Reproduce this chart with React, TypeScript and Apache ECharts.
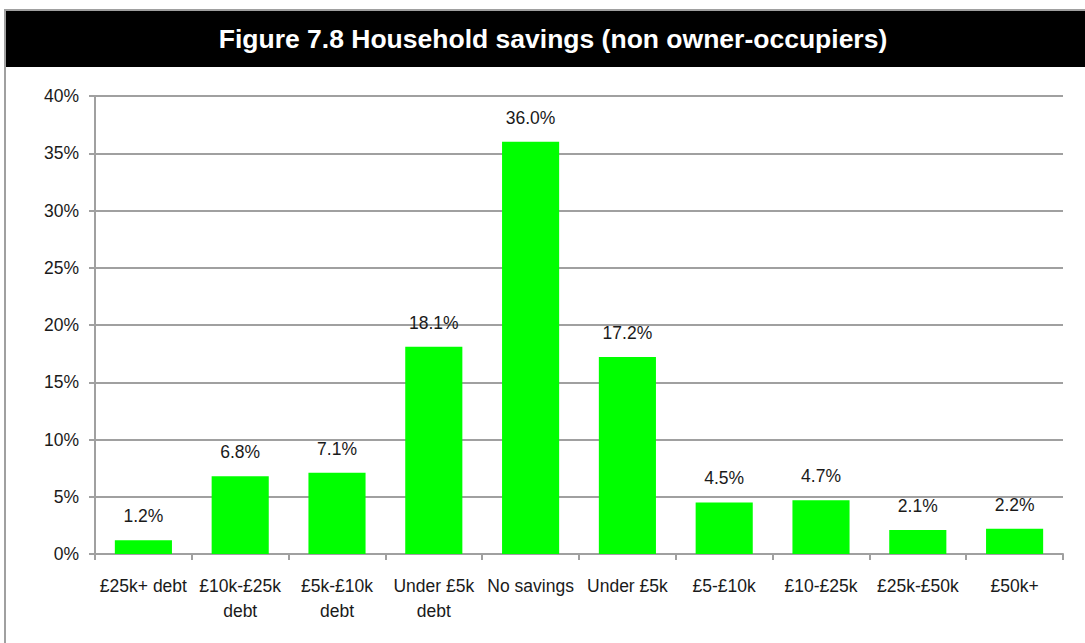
import React, { useEffect, useRef } from "react";
import * as echarts from "echarts";

const title = "Figure 7.8 Household savings (non owner-occupiers)";
const categories = [
  "£25k+ debt",
  "£10k-£25k\ndebt",
  "£5k-£10k\ndebt",
  "Under £5k\ndebt",
  "No savings",
  "Under £5k",
  "£5-£10k",
  "£10-£25k",
  "£25k-£50k",
  "£50k+",
];
const values = [1.2, 6.8, 7.1, 18.1, 36.0, 17.2, 4.5, 4.7, 2.1, 2.2];

const GRAY = "#a0a0a0";
const FONT = "'Liberation Sans', Arial, sans-serif";

export default function App() {
  const ref = useRef<HTMLDivElement>(null);
  useEffect(() => {
    if (!ref.current) return;
    const chart = echarts.init(ref.current, undefined, { renderer: "svg" });
    chart.setOption({
      animation: false,
      backgroundColor: "#ffffff",
      graphic: [
        {
          type: "rect",
          shape: { x: 5, y: 10, width: 1100, height: 650 },
          style: { fill: "#ffffff", stroke: GRAY, lineWidth: 2 },
          z: -10,
          silent: true,
        },
        {
          type: "rect",
          shape: { x: 6, y: 11, width: 1100, height: 56 },
          style: { fill: "#000000" },
          z: -9,
          silent: true,
        },
        {
          type: "text",
          x: 553,
          y: 39,
          style: {
            text: title,
            fill: "#ffffff",
            font: `bold 26.5px ${FONT}`,
            align: "center",
            verticalAlign: "middle",
          },
          z: 10,
        },
      ],
      grid: { left: 95, right: 22, top: 96, bottom: 89, containLabel: false },
      xAxis: {
        type: "category",
        data: categories,
        axisLine: { show: true, lineStyle: { color: GRAY, width: 2 } },
        axisTick: { show: true, alignWithLabel: false, length: 6, lineStyle: { color: GRAY, width: 2 } },
        axisLabel: {
          color: "#1a1a1a",
          fontFamily: FONT,
          fontSize: 17.5,
          lineHeight: 25,
          margin: 19,
          interval: 0,
        },
      },
      yAxis: {
        type: "value",
        min: 0,
        max: 40,
        interval: 5,
        axisLine: { show: true, lineStyle: { color: GRAY, width: 2 } },
        axisTick: { show: true, length: 6, lineStyle: { color: GRAY, width: 2 } },
        splitLine: { show: true, lineStyle: { color: GRAY, width: 2 } },
        axisLabel: {
          formatter: "{value}%",
          color: "#1a1a1a",
          fontFamily: FONT,
          fontSize: 17.5,
          margin: 16,
        },
      },
      series: [
        {
          type: "bar",
          data: values,
          barWidth: "59%",
          itemStyle: { color: "#00ff00" },
          label: {
            show: true,
            position: "top",
            distance: 15,
            formatter: (p: any) => `${Number(p.value).toFixed(1)}%`,
            color: "#1a1a1a",
            fontFamily: FONT,
            fontSize: 17.5,
          },
        },
      ],
    });
    return () => chart.dispose();
  }, []);
  return (
    <div
      ref={ref}
      style={{ position: "absolute", left: 0, top: 0, width: 1085, height: 643 }}
    />
  );
}
